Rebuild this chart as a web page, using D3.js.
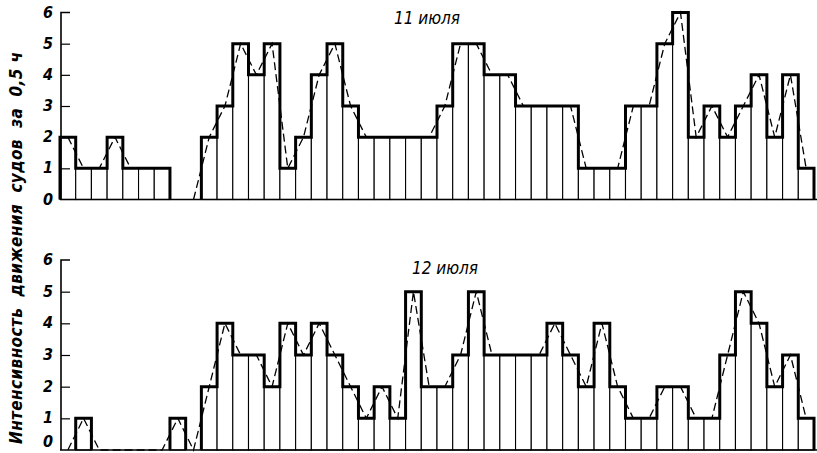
<!DOCTYPE html>
<html>
<head>
<meta charset="utf-8">
<script src="https://cdn.jsdelivr.net/npm/d3@7"></script>
<style>
  html, body { margin: 0; padding: 0; background: #fff; }
  svg { display: block; }
  text { font-family: "DejaVu Sans Condensed", "DejaVu Sans", sans-serif; font-style: italic; fill: #000; }
</style>
</head>
<body>
<svg id="chart" width="817" height="453"></svg>
<script>
// ---- data: vessels per half-hour interval (48 intervals per day) ----
const intervals = d3.range(48);
const valuesJul11 = [2,1,1,2,1,1,1,0,0,2,3,5,4,5,1,2,4,5,3,2,2,2,2,2,3,5,5,4,4,3,3,3,3,1,1,1,3,3,5,6,2,3,2,3,4,2,4,1];
const valuesJul12 = [0,1,0,0,0,0,0,1,0,2,4,3,3,2,4,3,4,3,2,1,2,1,5,2,2,3,5,3,3,3,3,4,3,2,4,2,1,1,2,2,1,1,3,5,4,2,3,1];
const gapsJul11 = [7];   // the dashed polygon is interrupted here
const gapsJul12 = [];
const yTicks = [0,1,2,3,4,5,6];
const titles = ["11 июля", "12 июля"];
const yLabel = "Интенсивность  движения  судов  за  0,5 ч";

const svg = d3.select("#chart");

const x = d3.scaleBand().domain(intervals).range([60, 814]).paddingInner(0).paddingOuter(0);

const panels = [
  { values: valuesJul11, gaps: gapsJul11, title: titles[0], y0: 199.5, y6: 12.5, tx: 427, ty: 24 },
  { values: valuesJul12, gaps: gapsJul12, title: titles[1], y0: 450, y6: 260, tx: 445, ty: 274 }
];

panels.forEach(p => {
  const y = d3.scaleLinear().domain([0, 6]).range([p.y0, p.y6]);
  const g = svg.append("g");

  // thin bar outlines
  g.selectAll("rect.bar").data(p.values.map((v, i) => ({ i, v })).filter(d => d.v > 0))
    .join("rect")
    .attr("class", "bar")
    .attr("x", d => x(d.i))
    .attr("y", d => y(d.v))
    .attr("width", x.bandwidth())
    .attr("height", d => y(0) - y(d.v))
    .attr("fill", "#fff")
    .attr("stroke", "#000")
    .attr("stroke-width", 1.1);

  // x baseline
  g.append("line")
    .attr("x1", x.range()[0]).attr("x2", 817)
    .attr("y1", y(0)).attr("y2", y(0))
    .attr("stroke", "#000").attr("stroke-width", 1.3);

  // y axis
  const axis = d3.axisRight(y).tickValues(yTicks).tickSize(9).tickFormat("");
  const ag = g.append("g").attr("transform", `translate(61,0)`).call(axis);
  ag.select(".domain").attr("stroke-width", 1.6).attr("d", `M9,${y(6)}H0V${y(0)}`);
  ag.selectAll(".tick line").attr("stroke-width", 1.2);
  ag.selectAll(".tick").filter(d => d === 0 || d === 6).select("line").remove();

  g.selectAll("text.tl").data(yTicks).join("text")
    .attr("class", "tl")
    .attr("x", 53)
    .attr("y", d => Math.min(y(d) + 5, 447))
    .attr("text-anchor", "end")
    .attr("font-size", 16)
    .attr("font-weight", "bold")
    .text(d => d);

  // thick step outline, per run of non-zero bars
  const path = d3.path();
  let inRun = false;
  p.values.forEach((v, i) => {
    const x0 = x(i), x1 = x(i) + x.bandwidth();
    if (v > 0) {
      if (!inRun) { path.moveTo(x0, y(0)); inRun = true; }
      path.lineTo(x0, y(v));
      path.lineTo(x1, y(v));
      if (i === p.values.length - 1 || p.values[i + 1] === 0) { path.lineTo(x1, y(0)); inRun = false; }
    }
  });
  g.append("path").attr("d", path.toString())
    .attr("fill", "none").attr("stroke", "#000")
    .attr("stroke-width", 3).attr("stroke-linejoin", "miter");

  // dashed frequency polygon through the bar-top midpoints
  const pts = p.values.map((v, i) => ({ i, v }));
  const line = d3.line()
    .defined(d => !p.gaps.includes(d.i))
    .x(d => x(d.i) + x.bandwidth() / 2)
    .y(d => y(d.v));
  g.append("path").attr("d", line(pts))
    .attr("fill", "none").attr("stroke", "#000")
    .attr("stroke-width", 1.3).attr("stroke-dasharray", "8,4");

  // panel title
  g.append("text")
    .attr("x", p.tx).attr("y", p.ty)
    .attr("text-anchor", "middle")
    .attr("font-size", 17)
    .text(p.title);
});

// y axis label
svg.append("text")
  .attr("transform", "translate(22,248) rotate(-90)")
  .attr("text-anchor", "middle")
  .attr("font-size", 17)
  .attr("font-weight", "bold")
  .attr("textLength", 392)
  .attr("lengthAdjust", "spacing")
  .attr("xml:space", "preserve")
  .style("white-space", "pre")
  .text(yLabel);
</script>
</body>
</html>
